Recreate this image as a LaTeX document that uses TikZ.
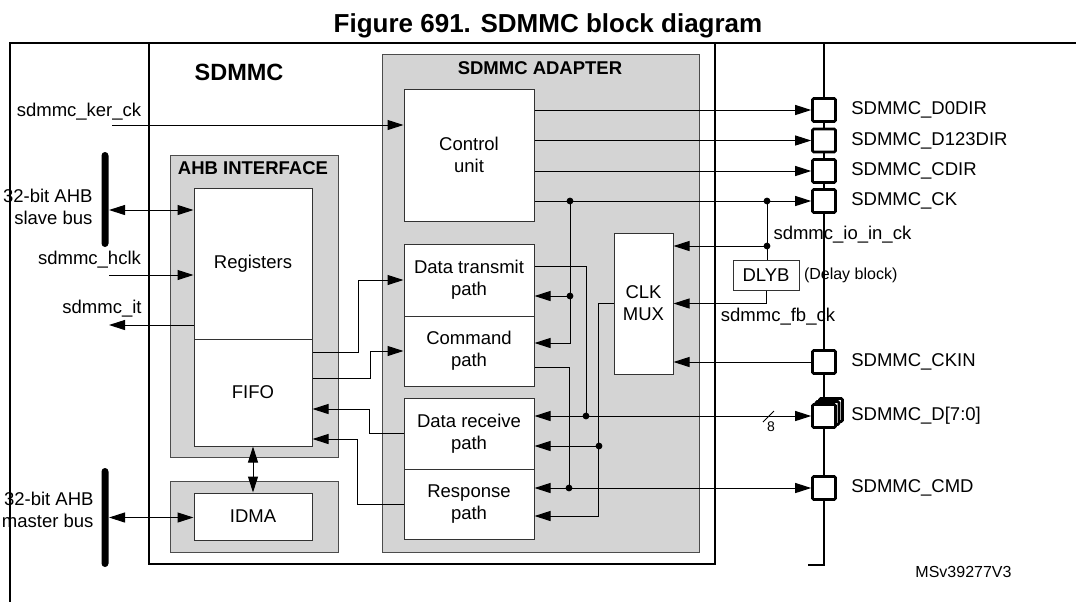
\documentclass[tikz,border=0pt]{standalone}
\usepackage{fontspec}
\setmainfont{Liberation Sans}
\usetikzlibrary{arrows.meta, positioning, calc}

\begin{document}
\begin{tikzpicture}[
        x=0.5pt, y=-0.5pt,
        >={Triangle[length=8pt, width=5pt]},
        box/.style={draw=black!80, fill=white, align=center, inner sep=0pt, font=\fontsize{9.25}{11}\selectfont},
        grp/.style={draw=black!70, fill=black!17, inner sep=0pt},
        grptitle/.style={inner sep=0pt, font=\fontsize{9.25}{11}\selectfont\bfseries},
        pad/.style={draw, line width=1.3pt, fill=white, rounded corners=0.6pt, minimum size=11.5pt, inner sep=0pt},
        padlab/.style={inner sep=0pt, font=\fontsize{9.25}{11}\selectfont},
        sig/.style={inner sep=0pt, font=\fontsize{9.25}{11}\selectfont},
        note/.style={inner sep=0pt, font=\fontsize{8}{9.5}\selectfont},
        dot/.style={circle, fill, inner sep=0pt, minimum size=3.4pt},
        bar/.style={fill=black, rounded corners=1.75pt, minimum width=3.5pt, inner sep=0pt},
        every path/.style={line width=0.5pt}
    ]
    \useasboundingbox (0,0) rectangle (1076,602);
    \node[anchor=base, font=\fontsize{13}{15}\selectfont\bfseries] (title) at (548,32) {Figure 691. SDMMC block diagram};
    \draw[line width=1pt] (1076,43) -- (10,43) -- (10,602);
    % blocks
    \node[draw, line width=1pt, minimum width=283pt, minimum height=260.5pt, inner sep=0pt] (sdmmc) at (432,303.5) {};
    \node[grp, minimum width=158.5pt, minimum height=249pt] (adp) at (540.5,303) {};
    \node[grp, minimum width=84pt, minimum height=151pt] (ahb) at (254,306) {};
    \node[grp, minimum width=84pt, minimum height=35.5pt] (dmagrp) at (254,516.5) {};
    \node[grptitle, font=\fontsize{11.75}{14}\selectfont\bfseries] (sdmmclab) at (239,72) {SDMMC};
    \node[grptitle] (adplab) at (540,68.5) {SDMMC ADAPTER};
    \node[grptitle] (ahblab) at (253,168.5) {AHB INTERFACE};
    \node[box, minimum width=65pt, minimum height=66pt] (cu) at (469,155) {Control\\unit};
    \node[box, minimum width=65pt, minimum height=36pt] (dt) at (469,280) {Data transmit\\path};
    \node[box, minimum width=65pt, minimum height=35pt] (cmd) at (469,351) {Command\\path};
    \node[box, minimum width=65pt, minimum height=35.5pt] (drx) at (469,433.5) {Data receive\\path};
    \node[box, minimum width=65pt, minimum height=35pt] (rsp) at (469,504) {Response\\path};
    \node[box, minimum width=59pt, minimum height=75.5pt] (reg) at (253,263.5) {Registers};
    \node[box, minimum width=59pt, minimum height=53.5pt] (fifo) at (253,392.5) {FIFO};
    \node[box, minimum width=59pt, minimum height=23.5pt] (idma) at (253,516.5) {IDMA};
    \node[box, minimum width=29.5pt, minimum height=70.5pt] (mux) at (643.5,303.5) {CLK\\MUX};
    \node[box, minimum width=33pt, minimum height=15pt] (dlyb) at (766,275) {DLYB};
    \node[note, anchor=west, right=2pt of dlyb] (dlylab) {(Delay block)};
    % AHB side
    \node[bar, minimum height=47.5pt] (sbus) at (105,199.5) {};
    \node[bar, minimum height=49.5pt] (mbus) at (105,517.5) {};
    \node[sig, anchor=east, align=right] (slab) at (93,206.5) {32-bit AHB\\slave bus};
    \node[sig, anchor=east, align=right] (mlab) at (94,510) {32-bit AHB\\master bus};
    \coordinate (sbusp) at ($(sbus.east)+(0,10.5)$);
    \draw[<->] (sbusp) -- (sbusp -| reg.west);
    \draw[<->] (mbus.east) -- (mbus.east -| idma.west);
    \draw[<->] (fifo.south) -- (idma.north);
    \coordinate (kerin) at (112,125);
    \node[sig] (kerlab) at (79,112) {sdmmc\_ker\_ck};
    \draw[->] (kerin) -- (kerin -| cu.west);
    \coordinate (hclkin) at (109,275);
    \node[sig] (hclklab) at (89.5,260) {sdmmc\_hclk};
    \draw[->] (hclkin) -- (hclkin -| reg.west);
    \coordinate (itout) at (109,325);
    \node[sig] (itlab) at (102,309) {sdmmc\_it};
    \draw[->] (itout -| reg.west) -- (itout);
    % FIFO <-> paths
    \draw[->] ($(fifo.east)+(0,-40.5)$) -- ++(46,0) |- (dt.west);
    \draw[->] ($(fifo.east)+(0,-14.5)$) -- ++(58,0) |- (cmd.west);
    \draw[->] (drx.west) -- ++(-34,0) |- ($(fifo.east)+(0,16.5)$);
    \draw[->] (rsp.west) -- ++(-46,0) |- ($(fifo.east)+(0,46.5)$);
    % pads
    \draw[line width=1.2pt] (824,43) -- (824,565) -- (808,565);
    \node[pad] (pd0) at (824,110) {};
    \node[pad] (pd123) at (824,140.5) {};
    \node[pad] (pcdir) at (824,171) {};
    \node[pad] (pck) at (824,201) {};
    \node[pad] (pckin) at (824,362) {};
    \node[pad] (pdb2) at (831,410) {};
    \node[pad] (pdb1) at (827.5,413) {};
    \node[pad] (pd) at (824,416) {};
    \node[pad] (pcmd) at (824,488) {};
    \node[padlab, right=7pt of pd0] (ld0) {SDMMC\_D0DIR};
    \node[padlab, right=7pt of pd123] (ld123) {SDMMC\_D123DIR};
    \node[padlab, right=7pt of pcdir] (lcdir) {SDMMC\_CDIR};
    \node[padlab, right=7pt of pck] (lck) {SDMMC\_CK};
    \node[padlab, right=7pt of pckin] (lckin) {SDMMC\_CKIN};
    \node[padlab, right=7pt of pd] (ld) {SDMMC\_D[7:0]};
    \node[padlab, right=7pt of pcmd] (lcmd) {SDMMC\_CMD};
    % control unit outputs
    \draw[->] (cu.east |- pd0.west) -- (pd0.west);
    \draw[->] (cu.east |- pd123.west) -- (pd123.west);
    \draw[->] (cu.east |- pcdir.west) -- (pcdir.west);
    \draw[->] (cu.east |- pck.west) -- (pck.west);
    % clocks
    \node[dot] (jck) at (570,201) {};
    \node[dot] (jtx) at (570,296) {};
    \node[dot] (jio) at (767,201) {};
    \node[dot] (jfb) at (767,246) {};
    \node[dot] (jd) at (586,416) {};
    \node[dot] (jclk) at (599,446) {};
    \node[dot] (jcmd) at (569,488) {};
    \draw[->] (jck.center) |- ($(cmd.east)+(0,-8)$);
    \draw[->] (jtx.center) -- (jtx.center -| dt.east);
    \draw (jio.center) -- (jfb.center |- dlyb.north);
    \draw[->] (jfb.center) -- (jfb.center -| mux.east);
    \draw[->] (dlyb.south) |- (mux.east);
    \draw[->] (pckin.west) -- (pckin.west -| mux.east);
    \draw[->] (mux.west) -- ++(-15,0) |- ($(rsp.east)+(0,12)$);
    \draw[->] (jclk.center) -- (jclk.center -| drx.east);
    % data and command
    \draw ($(dt.east)+(0,-14)$) -| (jd.center);
    \draw[<->] (pd.west) -- (pd.west -| drx.east);
    \draw ($(cmd.east)+(0,16)$) -| (jcmd.center);
    \draw[<->] (pcmd.west) -- (pcmd.west -| rsp.east);
    \draw (763,422) -- (774,411);
    \node[inner sep=0pt, font=\fontsize{7}{8}\selectfont] (w8) at (771,427) {8};
    \node[sig, anchor=west] (iolab) at (773,235) {sdmmc\_io\_in\_ck};
    \node[sig] (fblab) at (778,317) {sdmmc\_fb\_ck};
    \node[note] (ver) at (963.5,572) {MSv39277V3};
\end{tikzpicture}
\end{document}
